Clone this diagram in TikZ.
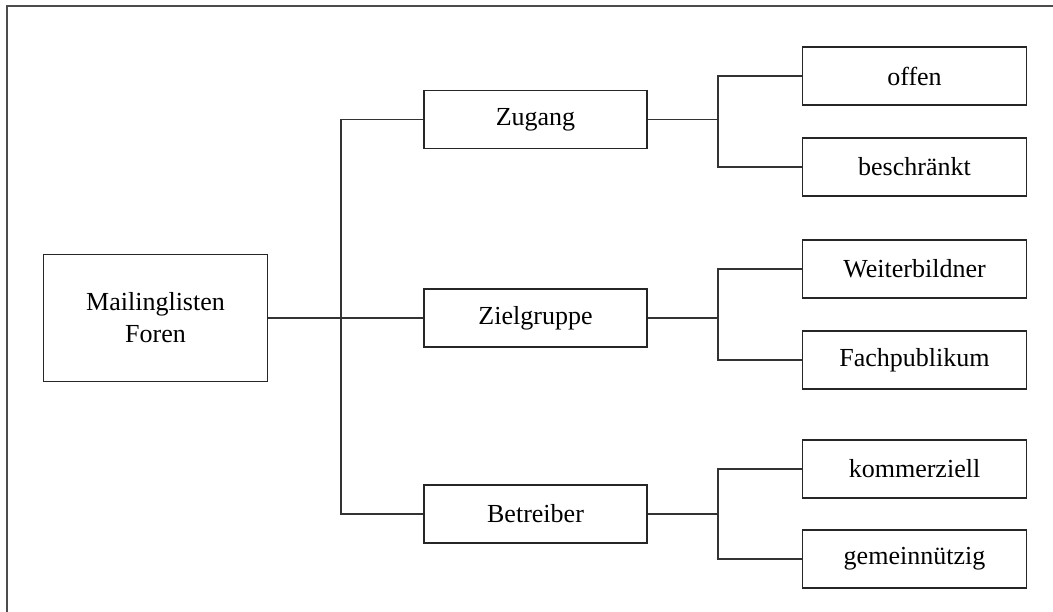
\documentclass[tikz,border=0pt]{standalone}
\usepackage{fontspec}
\setmainfont{Liberation Serif}
\tikzset{box/.style={draw=black!85, line width=1.3pt, minimum width=5.6cm, minimum height=1.45cm, inner sep=0pt, align=center, font=\fontsize{18.5}{22.8}\selectfont}}
\tikzset{link/.style={draw=black!80, line width=0.8pt}}

\begin{document}
\begin{tikzpicture}[x=0.025cm, y=-0.025cm]
	\useasboundingbox (0,0) rectangle (1053,612);
	\draw[black!70, line width=1.4pt] (7,612) -- (7,6) -- (1053,6);
	
	\node[box, minimum height=3.175cm] (root) at (155.5,318){Mailinglisten\\Foren};
	
	\node[box, minimum width=5.575cm] (zugang) at (535.5,119.5){Zugang};
	\node[box, minimum width=5.575cm] (ziel) at (535.5,318){Zielgruppe};
	\node[box, minimum width=5.575cm] (betr) at (535.5,514){Betreiber};
	
	\node[box] (offen) at (914.5,76){offen};
	\node[box] (beschr) at (914.5,167){beschränkt};
	\node[box] (weiter) at (914.5,269){Weiterbildner};
	\node[box] (fach) at (914.5,360){Fachpublikum};
	\node[box] (komm) at (914.5,469){kommerziell};
	\node[box] (gemein) at (914.5,559){gemeinnützig};
	
	\coordinate (j0) at (341,318);
	\coordinate (j1) at (718,119.5);
	\coordinate (j2) at (718,318);
	\coordinate (j3) at (718,514);
	
	\draw[link] (root.east) -- (ziel.west);
	\draw[link] (zugang.west) -| (j0) |- (betr.west);
	
	\draw[link] (zugang.east) -- (j1);
	\draw[link] (offen.west) -| (j1) |- (beschr.west);
	\draw[link] (ziel.east) -- (j2);
	\draw[link] (weiter.west) -| (j2) |- (fach.west);
	\draw[link] (betr.east) -- (j3);
	\draw[link] (komm.west) -| (j3) |- (gemein.west);
\end{tikzpicture}
\end{document}
